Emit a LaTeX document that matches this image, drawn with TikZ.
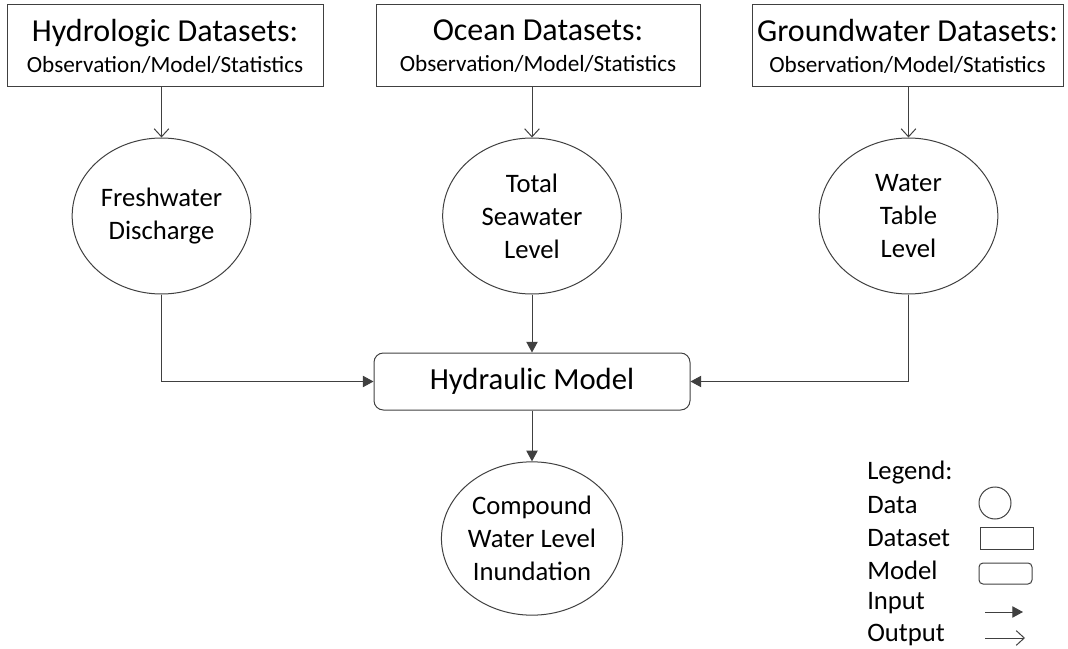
\documentclass[tikz,border=0pt]{standalone}
\usepackage{fontspec}
\setmainfont{Carlito}
\usetikzlibrary{shapes.geometric,arrows.meta}

\begin{document}
\begin{tikzpicture}[x=0.75pt,y=-0.75pt,
  dset/.style={draw=black!75, line width=0.75pt, minimum height=61.5pt, inner sep=0pt, align=center, font=\fontsize{17.4}{23.25}\selectfont},
  data/.style={ellipse, draw=black!75, line width=0.75pt, minimum width=134pt, minimum height=117pt, inner sep=0pt, align=center, font=\fontsize{20}{24.75}\selectfont},
  mdl/.style={draw=black!75, line width=0.75pt, rounded corners=7pt, minimum width=237pt, minimum height=42.75pt, font=\fontsize{23}{28}\selectfont},
  leg/.style={anchor=west, inner sep=0pt, font=\fontsize{20}{24}\selectfont},
  inarrow/.style={draw=black!75, line width=0.75pt, -{Triangle[length=8pt,width=8.5pt]}},
  outarrow/.style={draw=black!75, line width=0.75pt, -{Straight Barb[length=6pt,width=11pt]}}]
\useasboundingbox (0,0) rectangle (1068,649);
\newcommand{\dstitle}[1]{{\fontsize{24}{23.25}\selectfont #1}\\Observation/Model/Statistics}
\node[dset, minimum width=237pt] (ds0) at (165,46){\dstitle{Hydrologic Datasets:}};
\node[dset, minimum width=243pt] (ds1) at (538,46){\dstitle{Ocean Datasets:}};
\node[dset, minimum width=233.25pt] (ds2) at (907.5,46){\dstitle{Groundwater Datasets:}};
\node[data] (dat0) at (161.5,216){Freshwater\\Discharge};
\node[data] (dat1) at (532,216){Total\\Seawater\\Level};
\node[data] (dat2) at (908.5,216){Water\\Table\\Level};
\node[mdl] (model) at (532,381.5){Hydraulic Model};
\node[data, minimum height=115pt] (out0) at (532,538.5){Compound\\Water Level\\Inundation};
\draw[outarrow](dat0 |- ds0.south) -- (dat0);
\draw[outarrow](dat1 |- ds1.south) -- (dat1);
\draw[outarrow](dat2 |- ds2.south) -- (dat2);
\draw[inarrow](dat0) |- (model);
\draw[inarrow](dat1) -- (model);
\draw[inarrow](dat2) |- (model);
\draw[inarrow](model) -- (out0);

% legend
\node[leg] (lg0) at (867,473){Legend:};
\node[leg] (lg1) at (867,505){Data};
\node[leg] (lg2) at (867,538){Dataset};
\node[leg] (lg3) at (867,570){Model};
\node[leg] (lg4) at (867,603){Input};
\node[leg] (lg5) at (867,635){Output};
\node[circle, draw=black!75, line width=0.75pt, minimum size=24pt, inner sep=0pt] (lgdata) at (995,503){};
\node[draw=black!75, line width=0.75pt, minimum width=39.75pt, minimum height=16.5pt, inner sep=0pt] (lgdset) at (1006.5,538){};
\node[draw=black!75, line width=0.75pt, rounded corners=3pt, minimum width=39.75pt, minimum height=15.75pt, inner sep=0pt] (lgmdl) at (1005.5,573.5){};
\coordinate (lgin0) at (985,612);
\coordinate (lgin1) at (1023,612);
\coordinate (lgout0) at (985,638);
\coordinate (lgout1) at (1025,638);
\draw[inarrow](lgin0) -- (lgin1);
\draw[outarrow](lgout0) -- (lgout1);

\end{tikzpicture}
\end{document}
